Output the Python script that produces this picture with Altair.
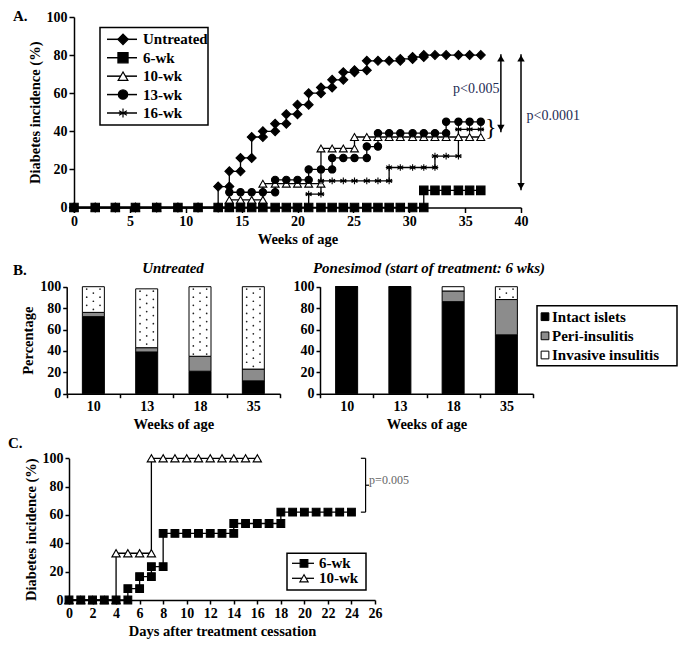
import altair as alt
import pandas as pd

FONT = "Liberation Serif"
W, H = 670, 631

# ---------------- Panel A data ----------------
a_series = ["Untreated", "6-wk", "10-wk", "13-wk", "16-wk"]
a_draw_order = ["Untreated", "10-wk", "13-wk", "16-wk", "6-wk"]
a_early_weeks = [0, 1.9, 3.7, 5.5, 7.4, 9.3, 11.1]
a_early_vals = [0, 0, 0, 0, 0, 0, 0]
a_weeks = [12.9, 13.9, 14.9, 15.9, 16.9, 18.0, 19.0, 20.0, 21.0, 22.1, 23.1, 24.1,
           25.1, 26.2, 27.2, 28.2, 29.2, 30.3, 31.3, 32.3, 33.3, 34.4, 35.4, 36.4]
a_untreated = [11, 19, 26, 37, 40, 44, 49, 54, 60, 63, 67, 71, 72, 77, 77, 77, 78, 79, 80, 80, 80, 80, 80, 80]
a_6wk = [0, 0, 0, 0, 0, 0, 0, 0, 0, 0, 0, 0, 0, 0, 0, 0, 0, 0, 9, 9, 9, 9, 9, 9]
a_10wk = [0, 4, 4, 4, 12.5, 12.5, 12.5, 12.5, 12.5, 31, 31, 31, 37, 37, 37, 37, 37, 37, 37, 37, 37, 37, 37, 37]
a_13wk = [0, 8, 8, 8, 8, 14.5, 14.5, 14.5, 20, 20, 26, 26, 26, 32, 39, 39, 39, 39, 39, 39, 45, 45, 45, 45]
a_16wk = [0, 0, 0, 0, 0, 0, 0, 0, 7, 14, 14, 14, 14, 14, 14, 21, 21, 21, 21, 27, 27, 41, 41, 41]
a_values = {"Untreated": a_untreated, "6-wk": a_6wk, "10-wk": a_10wk, "13-wk": a_13wk, "16-wk": a_16wk}

# ---------------- Panel B data ----------------
b_ages = ["10", "13", "18", "35"]
b_kinds = ["Intact islets", "Peri-insulitis", "Invasive insulitis"]
b_untr_intact = [72, 39, 21, 12]
b_untr_peri = [4, 4, 14, 11]
b_untr_invasive = [24, 55, 65, 77]
b_pon_intact = [100, 100, 86, 55]
b_pon_peri = [0, 0, 10, 33]
b_pon_invasive = [0, 0, 4, 12]

# ---------------- Panel C data ----------------
c_series = ["6-wk", "10-wk"]
c_days_6wk = [0, 1, 2, 3, 4, 5, 6, 7, 8, 9, 10, 11, 12, 13, 14, 15, 16, 17, 18, 19, 20, 21, 22, 23, 24]
c_6wk = [0, 0, 0, 0, 0, 8, 16.5, 23.5, 47, 47, 47, 47, 47, 47, 54, 54, 54, 54, 62, 62, 62, 62, 62, 62, 62]
c_days_10wk = [0, 1, 2, 3, 4, 5, 6, 7, 8, 9, 10, 11, 12, 13, 14, 15, 16]
c_10wk = [0, 0, 0, 0, 33, 33, 33, 100, 100, 100, 100, 100, 100, 100, 100, 100, 100]


def steps(xs, ys):
    out = []
    for i, (x, y) in enumerate(zip(xs, ys)):
        if i > 0 and y != ys[i - 1]:
            out.append((x, ys[i - 1]))
        out.append((x, y))
    return out


ASTER = "M0,-1L0,1M-0.87,-0.5L0.87,0.5M-0.87,0.5L0.87,-0.5M-1,0L1,0"
one = pd.DataFrame({"d": [0]})


def axis(orient, offset, values, title=None, **kw):
    base = dict(orient=orient, offset=offset, values=values, grid=False,
                labelFont=FONT, labelFontWeight="bold", labelFontSize=14, labelColor="black",
                titleFont=FONT, titleFontWeight="bold", titleFontSize=14.5, titleColor="black",
                domainColor="black", domainWidth=1.5, tickColor="black", tickWidth=1.5,
                tickSize=5, labelPadding=2, labelFlush=False, labelOverlap=False, labelAngle=0)
    base.update(kw)
    return alt.Axis(title=title, **base)


def label(txt, x, y, size=15, weight="bold", style="normal", align="left",
          baseline="middle", color="black"):
    return alt.Chart(one).mark_text(text=txt, font=FONT, fontSize=size, fontWeight=weight,
                                    fontStyle=style, align=align, baseline=baseline,
                                    color=color).encode(x=alt.value(x), y=alt.value(y))


def box(x1, y1, x2, y2, sw=1.5):
    return alt.Chart(one).mark_rect(fill="white", stroke="black", strokeWidth=sw).encode(
        x=alt.value(x1), x2=alt.value(x2), y=alt.value(y1), y2=alt.value(y2))


layers = []

# ================= Panel A =================
XA = dict(domain=[0, 40], range=[66, 513])
YA = dict(domain=[0, 100], range=[199.5, 9])
rows = []
for s in a_draw_order:
    pts = steps(a_early_weeks + a_weeks, a_early_vals + a_values[s])
    for k, (x, y) in enumerate(pts):
        rows.append({"series": s, "idx": k, "week": x, "value": y})
dfA = pd.DataFrame(rows)
dfA["o"] = range(len(dfA))

shapesA = ["diamond", "square", "triangle-up", "circle", ASTER]
fillsA = ["black", "black", "white", "black", "black"]
sizesA = [80, 45, 60, 50, 85]
swA = [1.1, 1.1, 1.1, 1.1, 1.7]

layers.append(box(92, 19.5, 200, 117))

layers.append(alt.Chart(dfA).mark_line(color="black", strokeWidth=1.3).encode(
    x=alt.X("week:Q", scale=alt.Scale(**XA),
            axis=axis("bottom", 199.5 - H, [0, 5, 10, 15, 20, 25, 30, 35, 40], "Weeks of age")),
    y=alt.Y("value:Q", scale=alt.Scale(**YA),
            axis=axis("left", -66, [0, 20, 40, 60, 80, 100], "Diabetes incidence (%)")),
    detail="series:N", order="idx:Q"))

layers.append(alt.Chart(dfA).mark_point(filled=True, stroke="black", opacity=1).encode(
    x=alt.X("week:Q", scale=alt.Scale(**XA), axis=None),
    y=alt.Y("value:Q", scale=alt.Scale(**YA), axis=None),
    shape=alt.Shape("series:N", scale=alt.Scale(domain=a_series, range=shapesA), legend=None),
    fill=alt.Fill("series:N", scale=alt.Scale(domain=a_series, range=fillsA), legend=None),
    size=alt.Size("series:N", scale=alt.Scale(domain=a_series, range=sizesA), legend=None),
    strokeWidth=alt.StrokeWidth("series:N", scale=alt.Scale(domain=a_series, range=swA), legend=None),
    order="o:Q"))

# legend A
dfLA = pd.DataFrame({"series": a_series, "i": [0, 1, 2, 3, 4]})
YLA = alt.Y("i:Q", scale=alt.Scale(domain=[0, 4], range=[31.3, 105]), axis=None)
layers.append(alt.Chart(dfLA).mark_rule(color="black", strokeWidth=1.5).encode(
    x=alt.value(99), x2=alt.value(129), y=YLA))
layers.append(alt.Chart(dfLA).mark_point(filled=True, stroke="black", opacity=1).encode(
    x=alt.value(115), y=YLA,
    shape=alt.Shape("series:N", scale=alt.Scale(domain=a_series, range=shapesA), legend=None),
    fill=alt.Fill("series:N", scale=alt.Scale(domain=a_series, range=fillsA), legend=None),
    size=alt.Size("series:N", scale=alt.Scale(domain=a_series, range=[110, 80, 90, 80, 130]), legend=None),
    strokeWidth=alt.StrokeWidth("series:N", scale=alt.Scale(domain=a_series, range=[1.2, 1.2, 1.2, 1.2, 1.8]),
                                legend=None)))
layers.append(alt.Chart(dfLA).mark_text(align="left", baseline="middle", font=FONT, fontSize=15,
                                        fontWeight="bold", color="black").encode(
    x=alt.value(135), y=YLA, text="series:N"))

# significance arrows A
dfArr = pd.DataFrame({"x": [38.2, 40.0], "y": [80.5, 80.5], "y2": [39.5, 9.0]})
layers.append(alt.Chart(dfArr).mark_rule(color="black", strokeWidth=1.5).encode(
    x=alt.X("x:Q", scale=alt.Scale(**XA), axis=None),
    y=alt.Y("y:Q", scale=alt.Scale(**YA), axis=None), y2="y2:Q"))
dfHeads = pd.DataFrame({"x": [38.2, 38.2, 40.0, 40.0], "y": [78.3, 41.7, 78.3, 11.2],
                        "dir": ["up", "down", "up", "down"]})
layers.append(alt.Chart(dfHeads).mark_point(filled=True, color="black", size=55, opacity=1).encode(
    x=alt.X("x:Q", scale=alt.Scale(**XA), axis=None),
    y=alt.Y("y:Q", scale=alt.Scale(**YA), axis=None),
    shape=alt.Shape("dir:N", scale=alt.Scale(domain=["up", "down"], range=["triangle-up", "triangle-down"]),
                    legend=None)))
dfP = pd.DataFrame({"x": [36.0, 40.5], "y": [62, 48], "t": ["p<0.005", "p<0.0001"], "a": ["c", "l"]})
layers.append(alt.Chart(dfP[dfP.a == "c"]).mark_text(font=FONT, fontSize=14, color="#1e2b55",
                                                      align="center", baseline="middle").encode(
    x=alt.X("x:Q", scale=alt.Scale(**XA), axis=None),
    y=alt.Y("y:Q", scale=alt.Scale(**YA), axis=None), text="t:N"))
layers.append(alt.Chart(dfP[dfP.a == "l"]).mark_text(font=FONT, fontSize=14, color="#1e2b55",
                                                      align="left", baseline="middle").encode(
    x=alt.X("x:Q", scale=alt.Scale(**XA), axis=None),
    y=alt.Y("y:Q", scale=alt.Scale(**YA), axis=None), text="t:N"))
dfBrace = pd.DataFrame({"x": [37.3], "y": [41.5], "t": ["}"]})
layers.append(alt.Chart(dfBrace).mark_text(font=FONT, fontSize=24, color="black",
                                           align="center", baseline="middle").encode(
    x=alt.X("x:Q", scale=alt.Scale(**XA), axis=None),
    y=alt.Y("y:Q", scale=alt.Scale(**YA), axis=None), text="t:N"))
layers.append(label("A.", 5, 1, size=15, baseline="top"))

# ================= Panel B =================
YB = dict(domain=[0, 100], range=[385.7, 278.7])


def bar_df(intact, peri, inv):
    r = []
    for j, age in enumerate(b_ages):
        for k, (kind, vals) in enumerate(zip(b_kinds, [intact, peri, inv])):
            r.append({"age": age, "kind": kind, "korder": k, "pct": vals[j]})
    return pd.DataFrame(r)


def dots_df(intact, peri, inv):
    # stippled texture for the "invasive insulitis" segments
    r = []
    for j in range(len(b_ages)):
        lo = intact[j] + peri[j]
        hi = lo + inv[j]
        if inv[j] < 6:
            continue
        y, k = hi - 2.2, 0
        while y > lo + 1.2:
            offs = [-0.125, 0.125] if k % 2 == 0 else [0.0]
            for o in offs:
                r.append({"pos": j + 0.5 + o, "pct": y})
            y -= 3.8
            k += 1
    return pd.DataFrame(r)


fillB = alt.Fill("kind:N", scale=alt.Scale(domain=b_kinds, range=["black", "#8c8c8c", "white"]), legend=None)
panelsB = [
    (b_untr_intact, b_untr_peri, b_untr_invasive, [58.7, 272], True),
    (b_pon_intact, b_pon_peri, b_pon_invasive, [312, 525], False),
]
for intact, peri, inv, rng, showtitle in panelsB:
    yax = axis("left", -rng[0], [0, 20, 40, 60, 80, 100], "Percentage" if showtitle else None, tickSize=4)
    layers.append(alt.Chart(bar_df(intact, peri, inv)).mark_bar(size=22, stroke="black", strokeWidth=1).encode(
        x=alt.X("age:N", sort=b_ages,
                scale=alt.Scale(domain=b_ages, range=rng, paddingInner=0, paddingOuter=0),
                axis=axis("bottom", 385.7 - H, b_ages, "Weeks of age", tickBand="extent", tickSize=4)),
        y=alt.Y("pct:Q", stack="zero", scale=alt.Scale(**YB), axis=yax),
        fill=fillB, order=alt.Order("korder:Q")))
    layers.append(alt.Chart(dots_df(intact, peri, inv)).mark_circle(size=3, color="#222222", opacity=1).encode(
        x=alt.X("pos:Q", scale=alt.Scale(domain=[0, 4], range=rng), axis=None),
        y=alt.Y("pct:Q", scale=alt.Scale(**YB), axis=None)))

layers.append(label("B.", 5, 262, size=15))
layers.append(label("Untreated", 165, 260, size=15, style="italic", align="center"))
layers.append(label("Ponesimod (start of treatment: 6 wks)", 421, 260, size=15, style="italic", align="center"))

# legend B
layers.append(box(529, 297.7, 669, 357.7))
dfLB = pd.DataFrame({"kind": b_kinds, "i": [0, 1, 2]})
YLB = alt.Y("i:Q", scale=alt.Scale(domain=[0, 2], range=[308.7, 347]), axis=None)
layers.append(alt.Chart(dfLB).mark_point(shape="square", filled=True, stroke="black", strokeWidth=1,
                                         size=60, opacity=1).encode(x=alt.value(537), y=YLB, fill=fillB))
layers.append(alt.Chart(dfLB).mark_text(align="left", baseline="middle", font=FONT, fontSize=15,
                                        fontWeight="bold", color="black").encode(
    x=alt.value(544), y=YLB, text="kind:N"))

# ================= Panel C =================
XC = dict(domain=[0, 26], range=[61, 367])
YC = dict(domain=[0, 100], range=[592, 450.3])
rows = []
for s, xs, ys in [("10-wk", c_days_10wk, c_10wk), ("6-wk", c_days_6wk, c_6wk)]:
    for k, (x, y) in enumerate(steps(xs, ys)):
        rows.append({"series": s, "idx": k, "day": x, "value": y})
dfC = pd.DataFrame(rows)
dfC["o"] = range(len(dfC))
shapeC = alt.Shape("series:N", scale=alt.Scale(domain=c_series, range=["square", "triangle-up"]), legend=None)
fillC = alt.Fill("series:N", scale=alt.Scale(domain=c_series, range=["black", "white"]), legend=None)
sizeC = alt.Size("series:N", scale=alt.Scale(domain=c_series, range=[60, 70]), legend=None)

layers.append(alt.Chart(dfC).mark_line(color="black", strokeWidth=1.3).encode(
    x=alt.X("day:Q", scale=alt.Scale(**XC),
            axis=axis("bottom", 592 - H, [0, 2, 4, 6, 8, 10, 12, 14, 16, 18, 20, 22, 24, 26],
                      "Days after treatment cessation", tickSize=4)),
    y=alt.Y("value:Q", scale=alt.Scale(**YC),
            axis=axis("left", -61, [0, 20, 40, 60, 80, 100], "Diabetes incidence (%)", tickSize=4)),
    detail="series:N", order="idx:Q"))
layers.append(alt.Chart(dfC).mark_point(filled=True, stroke="black", strokeWidth=1.1, opacity=1).encode(
    x=alt.X("day:Q", scale=alt.Scale(**XC), axis=None),
    y=alt.Y("value:Q", scale=alt.Scale(**YC), axis=None),
    shape=shapeC, fill=fillC, size=sizeC, order="o:Q"))

# legend C
layers.append(box(279, 545.3, 358, 582))
dfLC = pd.DataFrame({"series": c_series, "i": [0, 1]})
YLC = alt.Y("i:Q", scale=alt.Scale(domain=[0, 1], range=[555.3, 570.3]), axis=None)
layers.append(alt.Chart(dfLC).mark_rule(color="black", strokeWidth=1.3).encode(
    x=alt.value(284), x2=alt.value(306), y=YLC))
layers.append(alt.Chart(dfLC).mark_point(filled=True, stroke="black", strokeWidth=1.1, opacity=1).encode(
    x=alt.value(296), y=YLC, shape=shapeC, fill=fillC, size=sizeC))
layers.append(alt.Chart(dfLC).mark_text(align="left", baseline="middle", font=FONT, fontSize=15,
                                        fontWeight="bold", color="black").encode(
    x=alt.value(311), y=YLC, text="series:N"))

# bracket C
dfBr = pd.DataFrame({"x": [25.2, 24.8, 24.8, 25.2], "x2": [25.2, 25.2, 25.2, 25.5],
                     "y": [100, 100, 62, 81], "y2": [62, 100, 62, 81]})
layers.append(alt.Chart(dfBr).mark_rule(color="black", strokeWidth=1.2).encode(
    x=alt.X("x:Q", scale=alt.Scale(**XC), axis=None), x2="x2:Q",
    y=alt.Y("y:Q", scale=alt.Scale(**YC), axis=None), y2="y2:Q"))
dfPC = pd.DataFrame({"x": [25.5], "y": [85], "t": ["p=0.005"]})
layers.append(alt.Chart(dfPC).mark_text(font=FONT, fontSize=12, color="#666666",
                                        align="left", baseline="middle").encode(
    x=alt.X("x:Q", scale=alt.Scale(**XC), axis=None),
    y=alt.Y("y:Q", scale=alt.Scale(**YC), axis=None), text="t:N"))
layers.append(label("C.", 0, 435, size=15))

chart = alt.layer(*layers).resolve_scale(
    x="independent", y="independent", shape="independent", fill="independent",
    size="independent", color="independent", strokeWidth="independent"
).resolve_axis(x="independent", y="independent").properties(
    width=W, height=H, autosize=alt.AutoSizeParams(type="none"), padding=0, background="white"
).configure_view(strokeOpacity=0)

chart.save("out.html", embed_options={"renderer": "svg", "actions": False})
